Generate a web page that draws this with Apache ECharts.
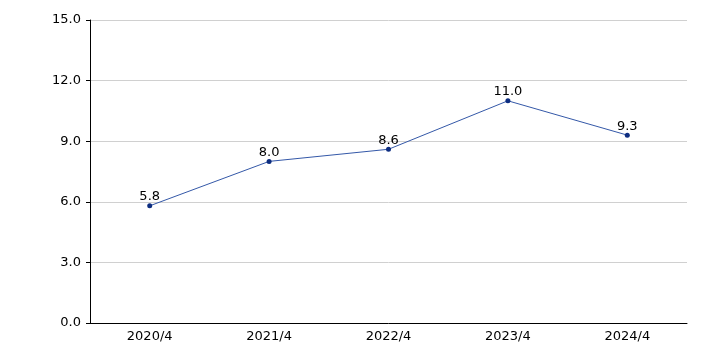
<!DOCTYPE html>
<html>
<head>
<meta charset="utf-8">
<script src="https://cdn.jsdelivr.net/npm/echarts@6/dist/echarts.min.js"></script>
<style>
  html, body { margin: 0; padding: 0; background: #fff; }
  #chart { width: 706px; height: 353px; }
</style>
</head>
<body>
<div id="chart"></div>
<script>
const categories = ['2020/4', '2021/4', '2022/4', '2023/4', '2024/4']
const values = [5.8, 8.0, 8.6, 11.0, 9.3]
const yMin = 0
const yMax = 15
const yStep = 3

const chart = echarts.init(document.getElementById('chart'))

const font = 'Verdana, "DejaVu Sans", sans-serif'

chart.setOption({
  animation: false,
  backgroundColor: '#fff',
  grid: { left: 90, right: 19, top: 20, bottom: 30 },
  xAxis: {
    type: 'category',
    data: categories,
    boundaryGap: true,
    axisLine: { lineStyle: { color: '#000', width: 1 } },
    axisTick: { alignWithLabel: true, length: 4, lineStyle: { color: '#000' } },
    axisLabel: { color: '#000', fontFamily: font, fontSize: 13, margin: 7 },
    splitLine: { show: false }
  },
  yAxis: {
    type: 'value',
    min: yMin,
    max: yMax,
    interval: yStep,
    axisLine: { show: true, lineStyle: { color: '#000', width: 1 } },
    axisTick: { show: true, length: 4, lineStyle: { color: '#000' } },
    axisLabel: {
      color: '#000', fontFamily: font, fontSize: 13, margin: 9,
      formatter: v => v.toFixed(1)
    },
    splitLine: { lineStyle: { color: '#d0d0d0', width: 1 } }
  },
  series: [{
    type: 'line',
    data: values,
    symbol: 'circle',
    symbolSize: 5,
    lineStyle: { color: '#3458a8', width: 1 },
    itemStyle: { color: '#0d2d80' },
    label: {
      show: true,
      position: 'top',
      distance: 0,
      color: '#000',
      fontFamily: font,
      fontSize: 13,
      formatter: p => p.value.toFixed(1)
    }
  }]
})
</script>
</body>
</html>
